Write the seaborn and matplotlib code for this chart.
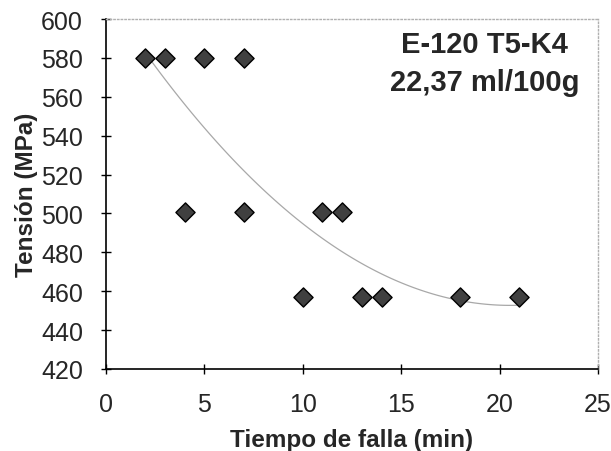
import numpy as np
import pandas as pd
import seaborn as sns
import matplotlib.pyplot as plt

# tiempo de falla (min) y tension (MPa)
tiempo = [2, 3, 5, 7, 4, 7, 11, 12, 10, 13, 14, 18, 21]
tension = [580, 580, 580, 580, 501, 501, 501, 501, 457, 457, 457, 457, 457]
titulo = 'E-120 T5-K4\n22,37 ml/100g'

sns.set_style('white')
plt.rcParams['font.family'] = ['Liberation Sans', 'DejaVu Sans']

data = pd.DataFrame({'tiempo': tiempo, 'tension': tension})

fig = plt.figure(figsize=(6.11, 4.52), dpi=100)
ax = fig.add_axes([106 / 611, 82 / 452, 492 / 611, 350 / 452])

sns.regplot(data=data, x='tiempo', y='tension', order=2, ci=None, ax=ax,
            scatter=False, truncate=True,
            line_kws={'color': '#a8a8a8', 'lw': 0.9})
sns.scatterplot(data=data, x='tiempo', y='tension', ax=ax, marker='D', s=95,
                color='#404040', edgecolor='black', linewidth=1.0, zorder=3)

ax.set_xlim(0, 25)
ax.set_ylim(420, 600)
ax.set_xticks(range(0, 26, 5))
ax.set_yticks(range(420, 601, 20))
ax.tick_params(axis='x', direction='inout', length=7, width=1,
               labelsize=18, color='black', bottom=True, pad=13)
ax.tick_params(axis='y', direction='inout', length=7, width=1,
               labelsize=18, color='black', left=True, pad=13)

for s in ['left', 'bottom']:
    ax.spines[s].set_color('black')
    ax.spines[s].set_linewidth(1.2)
for s in ['top', 'right']:
    ax.spines[s].set_color('#b0b0b0')
    ax.spines[s].set_linestyle(':')
    ax.spines[s].set_linewidth(1.0)

ax.set_xlabel('Tiempo de falla (min)', fontsize=17.5, fontweight='bold', labelpad=9)
ax.set_ylabel('Tensión (MPa)', fontsize=17.5, fontweight='bold', labelpad=2)

ax.text(0.77, 0.875, titulo, transform=ax.transAxes, ha='center', va='center',
        fontsize=21, fontweight='bold', linespacing=1.45)

fig.savefig('out.png', dpi=100)
